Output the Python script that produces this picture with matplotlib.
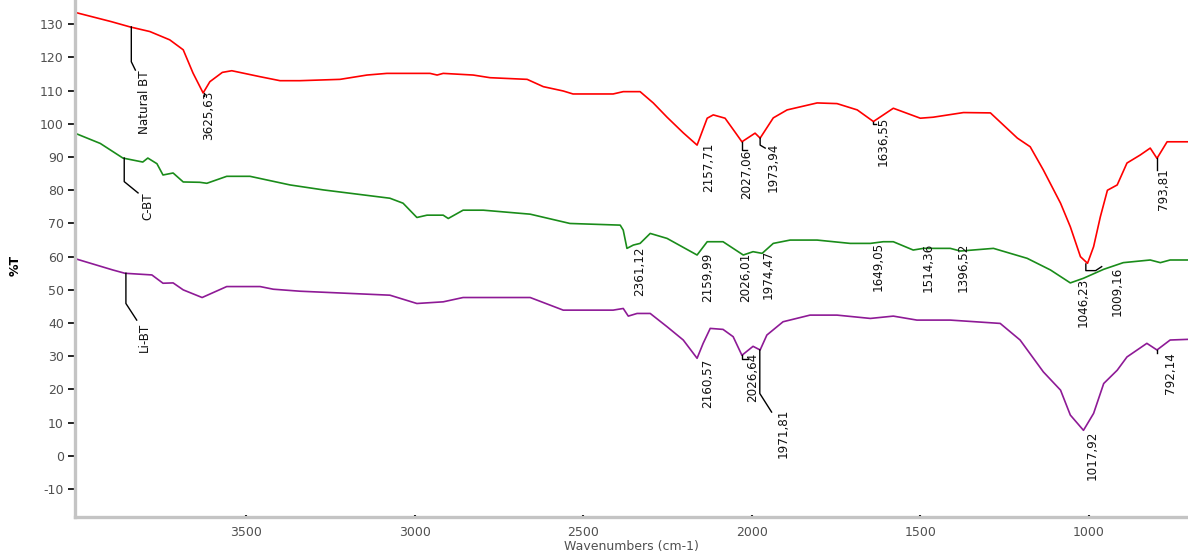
import matplotlib
matplotlib.use('Agg')
import matplotlib.pyplot as plt
from matplotlib.ticker import MultipleLocator, FixedLocator

plt.rcParams['axes.unicode_minus'] = False

# --- spectra (wavenumber, %T) ---
wn_nat = [4000, 3900, 3844, 3785, 3726, 3686, 3657, 3627, 3607, 3570, 3542, 3458, 3399, 3340,
          3221, 3141, 3082, 2954, 2933, 2915, 2826, 2776, 2666, 2618, 2559, 2530, 2411, 2381,
          2331, 2292, 2251, 2203, 2162, 2132, 2114, 2079, 2050, 2029, 1990, 1975, 1936, 1895,
          1806, 1747, 1687, 1639, 1580, 1500, 1462, 1372, 1292, 1212, 1174, 1135, 1084, 1055,
          1025, 1004, 986, 966, 945, 916, 887, 848, 818, 798, 768, 706]
t_nat = [133.4, 130.8, 129.2, 127.8, 125.3, 122.3, 115.3, 109.3, 112.7, 115.5, 116, 114.2, 113, 113,
         113.4, 114.7, 115.2, 115.2, 114.7, 115.2, 114.7, 113.9, 113.4, 111.2, 109.9, 109, 109, 109.7,
         109.7, 106.3, 102, 97.3, 93.6, 101.7, 102.7, 101.7, 97.6, 94.6, 97.2, 95.7, 101.8, 104.2,
         106.3, 106.1, 104.2, 100.7, 104.7, 101.7, 102, 103.4, 103.3, 95.7, 93.1, 86.1, 76.1, 69,
         60, 58, 63, 72, 80, 81.6, 88.2, 90.6, 92.7, 89.6, 94.6, 94.6]

wn_cbt = [4000, 3932, 3865, 3806, 3791, 3764, 3746, 3716, 3686, 3637, 3616, 3557, 3488, 3369,
          3270, 3073, 3034, 2993, 2963, 2915, 2900, 2856, 2796, 2657, 2539, 2390, 2381, 2370,
          2351, 2331, 2301, 2251, 2162, 2132, 2085, 2025, 1996, 1969, 1936, 1886, 1806, 1708,
          1648, 1610, 1580, 1521, 1491, 1411, 1381, 1283, 1183, 1114, 1055, 1016, 956, 898,
          818, 788, 759, 706]
t_cbt = [96.9, 94.1, 89.7, 88.5, 89.7, 88, 84.6, 85.2, 82.5, 82.4, 82.1, 84.2, 84.2, 81.6,
         80.1, 77.6, 76.1, 71.8, 72.5, 72.5, 71.5, 74, 74, 72.8, 70, 69.5, 68, 62.5,
         63.5, 64, 67, 65.5, 60.5, 64.5, 64.5, 60.5, 61.5, 61, 64, 65, 65, 64,
         64, 64.5, 64.5, 62, 62.5, 62.5, 61.7, 62.5, 59.5, 56, 52.1, 53.5, 56.2, 58.2,
         59, 58.2, 59, 59]

wn_li = [4000, 3895, 3859, 3779, 3746, 3716, 3686, 3630, 3557, 3458, 3419, 3340, 3073, 2993,
         2915, 2856, 2657, 2559, 2411, 2381, 2366, 2340, 2301, 2251, 2203, 2162, 2144, 2123,
         2085, 2055, 2029, 1996, 1975, 1955, 1907, 1827, 1747, 1648, 1580, 1510, 1411, 1263,
         1204, 1135, 1084, 1055, 1016, 986, 956, 916, 887, 828, 798, 759, 706]
t_li = [59.2, 56, 55, 54.5, 52, 52.1, 50, 47.7, 51, 51, 50.2, 49.6, 48.4, 45.9,
        46.4, 47.7, 47.7, 43.9, 43.9, 44.4, 42.1, 42.9, 42.9, 38.9, 34.9, 29.4, 33.9, 38.4,
        38.1, 35.9, 30.3, 33, 31.9, 36.4, 40.4, 42.4, 42.4, 41.4, 42.1, 40.9, 40.9, 39.9,
        34.9, 25.3, 19.8, 12.3, 7.7, 12.8, 21.8, 25.8, 29.8, 33.9, 31.9, 34.9, 35.1]

# --- peak / sample labels: text, x (cm-1), top of text (%T) ---
labels = ['Natural BT', '3625,63', '2157,71', '2027,06', '1973,94', '1636,55', '793,81',
          'C-BT', '2361,12', '2159,99', '2026,01', '1974,47', '1649,05', '1514,36', '1396,52',
          '1046,23', '1009,16',
          'Li-BT', '2160,57', '2026,64', '1971,81', '1017,92', '792,14']
label_x = [3800, 3612, 2129, 2014, 1936, 1610, 779,
           3791, 2332, 2130, 2017, 1952, 1626, 1478, 1374,
           1018, 917,
           3800, 2130, 1997, 1907, 991, 759]
label_y = [116.2, 109.9, 94.2, 92.2, 94.2, 102.1, 86.7,
           79.5, 63.0, 61.1, 61.1, 62.0, 64.5, 64.2, 64.2,
           53.6, 57.0,
           40.0, 29.4, 31.2, 14.3, 7.7, 31.3]

# leader lines (polylines in data coords)
leaders = [
    ([3840, 3840, 3828], [129.2, 118.7, 116.2]),
    ([3861, 3861, 3820], [89.7, 82.6, 79.2]),
    ([3856, 3856, 3824], [55.0, 45.9, 40.9]),
    ([2029, 2029, 2014], [94.6, 92.2, 92.2]),
    ([1975, 1975, 1960], [95.7, 93.6, 92.7]),
    ([798, 798], [89.6, 86.0]),
    ([1009, 1009, 980, 962], [57.8, 55.8, 55.8, 57.0]),
    ([1976, 1976, 1941], [31.9, 18.8, 13.2]),
    ([2029, 2029, 2010], [30.3, 29.3, 29.3]),
    ([798, 798], [31.9, 30.9]),
    ([3625, 3625], [109.3, 108.4]),
    ([1639, 1639, 1630], [100.7, 100.0, 100.0]),
]

x_major = [3500, 3000, 2500, 2000, 1500, 1000]

fig = plt.figure(figsize=(11.88, 5.54), dpi=100)
ax = fig.add_axes([75 / 1188, 37 / 554, 1 - 75 / 1188, 517 / 554])

ax.plot(wn_nat, t_nat, color='#ff0000', lw=1.2)
ax.plot(wn_cbt, t_cbt, color='#1a8c1a', lw=1.2)
ax.plot(wn_li, t_li, color='#8e1a96', lw=1.2)

for xs, ys in leaders:
    ax.plot(xs, ys, color='black', lw=1.0)

for txt, x, y in zip(labels, label_x, label_y):
    ax.text(x, y, txt, rotation=90, ha='center', va='top', fontsize=9.5,
            family='DejaVu Sans', fontstretch='condensed', color='#111111')

ax.set_xlim(4007, 706)
ax.set_ylim(-18.4, 137.3)

ax.xaxis.set_major_locator(FixedLocator(x_major))
ax.xaxis.set_minor_locator(MultipleLocator(100))
ax.yaxis.set_major_locator(MultipleLocator(10))
ax.yaxis.set_minor_locator(MultipleLocator(2))

for s in ['top', 'right']:
    ax.spines[s].set_visible(False)
for s in ['left', 'bottom']:
    ax.spines[s].set_color('#c4c4c4')
    ax.spines[s].set_linewidth(2.4)

ax.tick_params(axis='y', which='major', direction='out', length=5, width=1.2,
               color='black', labelsize=9, labelcolor='#505050', pad=3)
ax.tick_params(axis='y', which='minor', direction='inout', length=1.5, width=1.5, color='#333333')
ax.tick_params(axis='x', which='major', direction='inout', length=3, width=1.5,
               color='black', labelsize=9, labelcolor='#505050', pad=5)
ax.tick_params(axis='x', which='minor', direction='inout', length=1.5, width=1.5, color='#333333')

ax.set_xlabel('Wavenumbers (cm-1)', fontsize=9, color='#505050', labelpad=1)
fig.text(15 / 1188, 1 - 265 / 554, '%T', rotation=90, ha='center', va='center',
         fontsize=9, fontweight='bold')

fig.savefig('out.png', dpi=100)
